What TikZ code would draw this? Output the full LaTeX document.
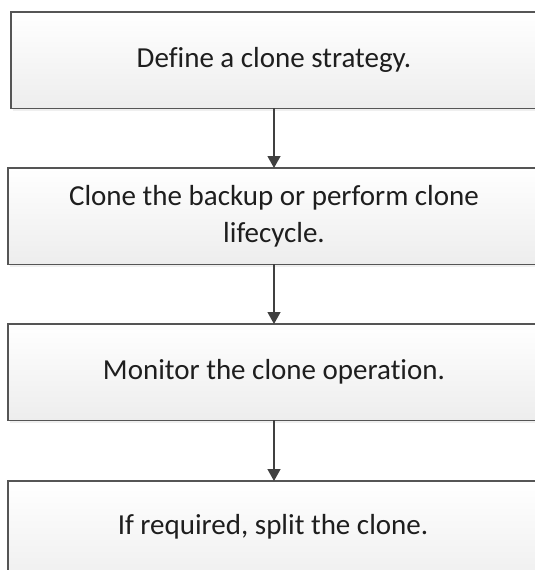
\documentclass[tikz,border=0pt]{standalone}
\usepackage{fontspec}
\setmainfont{Carlito}[Ligatures=NoCommon]
\usetikzlibrary{shadows,arrows.meta}
\definecolor{boxline}{HTML}{555555}
\definecolor{boxbot}{HTML}{EDEDED}
\definecolor{txt}{HTML}{1E1E1E}
\definecolor{arrowc}{HTML}{404040}
\begin{document}
\begin{tikzpicture}[x=1pt,y=-1pt,
  stepbox/.style={rectangle, draw=none, top color=white, bottom color=boxbot,
    anchor=north west, inner sep=0pt, minimum width=540pt, minimum height=96pt,
    drop shadow={opacity=0.12, shadow xshift=2pt, shadow yshift=-3pt}},
  edge3/.style={draw=boxline, line width=1.6pt},
  steptext/.style={text=txt, align=center, inner sep=0pt, font=\fontsize{29}{37}\selectfont},
  flow/.style={draw=arrowc, line width=1.3pt, -{Triangle[width=13pt,length=12pt]}}]
\useasboundingbox (0,0) rectangle (535,570);
\fill[white] (0,0) rectangle (535,570);
\node[stepbox] (b1) at (11,12) {};
\node[stepbox] (b2) at (8,168) {};
\node[stepbox] (b3) at (8,324) {};
\node[stepbox, minimum height=110pt] (b4) at (8,481) {};
\foreach \b in {b1,b2,b3}
  \draw[edge3] (\b.north east) -- (\b.north west) -- (\b.south west) -- (\b.south east);
\draw[edge3] (b4.north east) -- (b4.north west) -- (b4.south west);
\node[steptext] (t1) at (274,60) {Define a clone strategy.};
\node[steptext] (t2) at (274,216) {Clone the backup or perform clone\\lifecycle.};
\node[steptext] (t3) at (274,372) {Monitor the clone operation.};
\node[steptext] (t4) at (273,527) {If required, split the clone.};
\draw[flow] (t1 |- b1.south) -- (t1 |- b2.north);
\draw[flow] (t2 |- b2.south) -- (t2 |- b3.north);
\draw[flow] (t3 |- b3.south) -- (t3 |- b4.north);
\end{tikzpicture}
\end{document}
